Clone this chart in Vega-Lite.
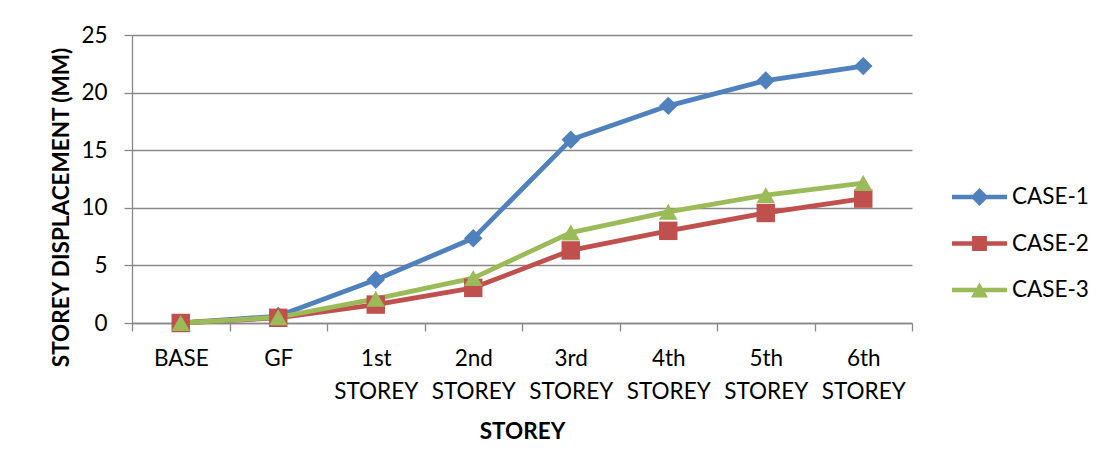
{
  "$schema": "https://vega.github.io/schema/vega-lite/v6.json",
  "width": 780,
  "height": 288,
  "autosize": "none",
  "padding": {"left": 132, "top": 35, "right": 192, "bottom": 153},
  "background": "white",
  "config": {"font": "Lato", "view": {"stroke": null}},
  "data": {"values": [
    {"storey": "BASE", "case": "CASE-1", "disp": 0},
    {"storey": "GF", "case": "CASE-1", "disp": 0.6},
    {"storey": "1st STOREY", "case": "CASE-1", "disp": 3.75},
    {"storey": "2nd STOREY", "case": "CASE-1", "disp": 7.35},
    {"storey": "3rd STOREY", "case": "CASE-1", "disp": 15.9},
    {"storey": "4th STOREY", "case": "CASE-1", "disp": 18.85},
    {"storey": "5th STOREY", "case": "CASE-1", "disp": 21.05},
    {"storey": "6th STOREY", "case": "CASE-1", "disp": 22.3},
    {"storey": "BASE", "case": "CASE-2", "disp": 0},
    {"storey": "GF", "case": "CASE-2", "disp": 0.45},
    {"storey": "1st STOREY", "case": "CASE-2", "disp": 1.6},
    {"storey": "2nd STOREY", "case": "CASE-2", "disp": 3.05},
    {"storey": "3rd STOREY", "case": "CASE-2", "disp": 6.3},
    {"storey": "4th STOREY", "case": "CASE-2", "disp": 8.0},
    {"storey": "5th STOREY", "case": "CASE-2", "disp": 9.55},
    {"storey": "6th STOREY", "case": "CASE-2", "disp": 10.8},
    {"storey": "BASE", "case": "CASE-3", "disp": 0},
    {"storey": "GF", "case": "CASE-3", "disp": 0.5},
    {"storey": "1st STOREY", "case": "CASE-3", "disp": 2.1},
    {"storey": "2nd STOREY", "case": "CASE-3", "disp": 3.9},
    {"storey": "3rd STOREY", "case": "CASE-3", "disp": 7.85},
    {"storey": "4th STOREY", "case": "CASE-3", "disp": 9.65},
    {"storey": "5th STOREY", "case": "CASE-3", "disp": 11.1},
    {"storey": "6th STOREY", "case": "CASE-3", "disp": 12.15}
  ]},
  "encoding": {
    "x": {
      "field": "storey", "type": "nominal", "sort": null,
      "scale": {"type": "band", "paddingInner": 0, "paddingOuter": 0},
      "axis": {
        "title": "STOREY", "titleFontSize": 22.5, "titleFontWeight": "bold", "titleColor": "#000",
        "titleBaseline": "alphabetic", "titleY": 115,
        "labelExpr": "split(datum.label, ' ')", "labelFontSize": 22.5, "labelColor": "#000",
        "labelAngle": 0, "labelBaseline": "alphabetic", "labelLineHeight": 33, "labelPadding": 34,
        "labelOverlap": false, "labelLimit": 0,
        "tickBand": "extent", "tickSize": 8, "tickColor": "#888888", "tickWidth": 1.3,
        "domainColor": "#888888", "domainWidth": 1.3, "grid": false
      }
    },
    "y": {
      "field": "disp", "type": "quantitative",
      "scale": {"domain": [0, 25], "nice": false},
      "axis": {
        "title": "STOREY DISPLACEMENT (MM)", "titleFontSize": 22.5, "titleFontWeight": "bold", "titleColor": "#000",
        "titleBaseline": "alphabetic", "titleX": -64, "titleY": 172,
        "values": [0, 5, 10, 15, 20, 25], "labelFontSize": 22.5, "labelColor": "#000", "labelPadding": 17,
        "tickSize": 8, "tickColor": "#888888", "tickWidth": 1.3,
        "domainColor": "#888888", "domainWidth": 1.3,
        "grid": true, "gridColor": "#888888", "gridWidth": 1.3
      }
    }
  },
  "layer": [
    {
      "mark": {"type": "line", "strokeWidth": 4.8, "strokeJoin": "round", "strokeCap": "round"},
      "encoding": {
        "color": {"field": "case", "type": "nominal",
          "scale": {"domain": ["CASE-1", "CASE-2", "CASE-3"], "range": ["#4F81BD", "#C0504D", "#9BBB59"]},
          "legend": null}
      }
    },
    {
      "mark": {"type": "point", "filled": true, "opacity": 1, "size": 340},
      "encoding": {
        "color": {"field": "case", "type": "nominal",
          "scale": {"domain": ["CASE-1", "CASE-2", "CASE-3"], "range": ["#4F81BD", "#C0504D", "#9BBB59"]},
          "legend": null},
        "shape": {"field": "case", "type": "nominal",
          "scale": {"domain": ["CASE-1", "CASE-2", "CASE-3"], "range": ["diamond", "square", "triangle-up"]},
          "legend": null}
      }
    },
    {
      "transform": [{"filter": "datum.disp < -100"}],
      "mark": {"type": "point", "filled": true, "opacity": 1},
      "encoding": {
        "color": {"field": "case", "type": "nominal",
          "scale": {"domain": ["CASE-1", "CASE-2", "CASE-3"], "range": ["#4F81BD", "#C0504D", "#9BBB59"]},
          "legend": {
            "title": null, "orient": "none", "legendX": 823.5, "legendY": 138,
            "labelFontSize": 22.5, "labelColor": "#000", "labelOffset": 8.5, "rowPadding": 10.5, "padding": 0,
            "symbolSize": 2304, "symbolStrokeWidth": 0, "symbolOpacity": 1
          }},
        "shape": {"field": "case", "type": "nominal",
          "scale": {"domain": ["CASE-1", "CASE-2", "CASE-3"], "range": [
            "M-1.146,-0.094H1.146V0.094H-1.146Z M-0.375,0L0,-0.375L0.375,0L0,0.375Z",
            "M-1.146,-0.094H1.146V0.094H-1.146Z M-0.31,-0.31H0.31V0.31H-0.31Z",
            "M-1.146,-0.094H1.146V0.094H-1.146Z M0,-0.31L0.354,0.31L-0.354,0.31Z"]},
          "legend": null}
      }
    }
  ],
  "resolve": {
    "scale": {"shape": "independent"},
    "legend": {"color": "independent", "shape": "independent"}
  }
}
